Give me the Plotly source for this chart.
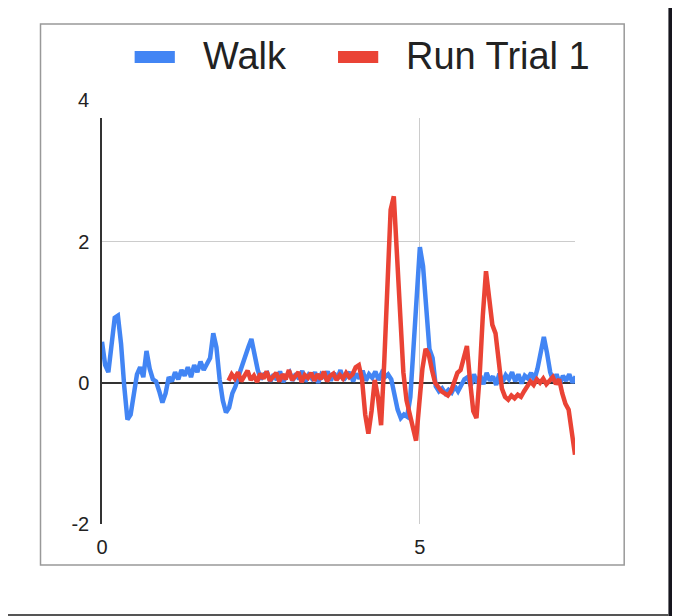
import plotly.graph_objects as go

# Sample spacing (seconds) shared by both recordings
SAMPLE_STEP = 0.05
WALK_START = 0.0
RUN_START = 1.99

# Walk acceleration
walk_values = [
    0.58, 0.25, 0.15, 0.55, 0.92, 0.95, 0.55, -0.05, -0.52, -0.45,
    -0.15, 0.12, 0.22, 0.08, 0.45, 0.20, 0.05, 0.02, -0.12, -0.28,
    -0.15, 0.08, 0.02, 0.15, 0.05, 0.18, 0.10, 0.22, 0.08, 0.25,
    0.15, 0.30, 0.18, 0.28, 0.35, 0.70, 0.50, 0.05, -0.25, -0.42,
    -0.35, -0.15, -0.05, 0.10, 0.25, 0.38, 0.50, 0.62, 0.40, 0.18,
    0.05, 0.12,
    0.14, 0.02, 0.12, 0.04, 0.16, 0.01, 0.10, 0.15, 0.03, 0.13,
    0.05, 0.17, 0.02, 0.11, 0.06, 0.15, 0.00, 0.12, 0.08, 0.16,
    0.03, 0.14, 0.05, 0.18, 0.04, 0.10, 0.15, 0.02, 0.13, 0.06,
    0.17, 0.03, 0.12, 0.07, 0.16, 0.04, 0.14, 0.08,
    0.12, 0.05, -0.15, -0.38, -0.50, -0.45, -0.48, -0.20, 0.50, 1.35,
    1.92, 1.65, 0.95, 0.48, 0.35, -0.05, -0.12, -0.08, -0.15, -0.10,
    -0.14, -0.05, -0.12, -0.02, 0.05,
    0.08, -0.04, 0.12, 0.00, 0.10, -0.02, 0.14, 0.03, 0.09, -0.03,
    0.13, 0.01, 0.11, 0.05, 0.15, 0.02, 0.12, -0.01, 0.10, 0.06,
    0.14, 0.04,
    0.20, 0.45, 0.65, 0.42, 0.15, 0.02, 0.12, -0.02, 0.10, 0.03,
    0.12, 0.00, 0.09,
]

# Run Trial 1 acceleration
run_values = [
    0.03, 0.12, 0.06, 0.15, 0.02, 0.11, 0.17, 0.04, 0.10, 0.01,
    0.13, 0.06, 0.16, 0.03, 0.09, 0.14, 0.02, 0.12, 0.05, 0.18,
    0.04, 0.10, 0.15, 0.01, 0.11, 0.07, 0.14, 0.03, 0.12, 0.05,
    0.16, 0.02, 0.10, 0.13, 0.04, 0.11, 0.06, 0.14, 0.08, 0.12,
    0.22, 0.25, 0.05, -0.45, -0.72, -0.40, 0.04, -0.20, -0.60, 0.30,
    1.40, 2.45, 2.64, 1.75, 0.85, 0.15, -0.25, -0.45, -0.62, -0.82,
    -0.30, 0.20, 0.48, 0.40, 0.18, 0.00, -0.06, -0.12, -0.15, -0.18,
    -0.12, 0.02, 0.14, 0.18, 0.35, 0.52, 0.02, -0.40, -0.50, 0.10,
    0.95, 1.58, 1.20, 0.82, 0.70, 0.30, -0.08, -0.20, -0.24, -0.18,
    -0.22, -0.17, -0.20, -0.12, -0.05, 0.02, -0.03, 0.05, 0.00, 0.06,
    -0.02, 0.04, 0.08, -0.02, 0.05, -0.15, -0.30, -0.38, -0.70, -1.02,
]

series_names = ["Walk", "Run Trial 1"]
series_colors = ["#4285F4", "#EA4335"]

x_ticks = [0, 5]
y_ticks = [-2, 0, 2]
y_tick_text = ["-2", "0", "2"]
y_top_label = "4"

font_family = "Liberation Sans, Arial, sans-serif"

fig = go.Figure()

for name, start, values, color in zip(
    series_names,
    [WALK_START, RUN_START],
    [walk_values, run_values],
    series_colors,
):
    fig.add_trace(go.Scatter(
        y=values, x0=start, dx=SAMPLE_STEP, mode="lines", name=name,
        line=dict(color=color, width=4.5), showlegend=False,
    ))

# Sheets-style legend: fat swatch, wide gap, then the label
legend_left = [0.069, 0.499]
swatch_len = 0.085
text_offset = 0.140
shapes = []
annotations = []
for name, color, left in zip(series_names, series_colors, legend_left):
    shapes.append(dict(
        type="rect", xref="paper", yref="paper", x0=left, x1=left + swatch_len,
        y0=1.1355, y1=1.165, fillcolor=color, line=dict(width=0),
    ))
    annotations.append(dict(
        text=name, xref="paper", yref="paper", x=left + text_offset, y=1.152,
        xanchor="left", yanchor="middle", showarrow=False,
        font=dict(size=38, color="#222222"),
    ))

annotations.append(dict(
    text=y_top_label, xref="paper", yref="paper", x=-0.024, y=1.044,
    xanchor="right", yanchor="middle", showarrow=False,
    font=dict(size=20, color="#222222"),
))

shapes += [
    # grey card border
    dict(type="rect", xref="paper", yref="paper", x0=-0.130, x1=1.104,
         y0=-0.101, y1=1.2315, line=dict(color="#999999", width=1.5),
         layer="below"),
    # dark screenshot edges
    dict(type="rect", xref="paper", yref="paper", x0=1.1975, x1=1.40,
         y0=-0.40, y1=1.50, line=dict(width=0), fillcolor="#16151d"),
    dict(type="rect", xref="paper", yref="paper", x0=-0.40, x1=1.1975,
         y0=-0.2217, y1=-0.40, line=dict(width=0), fillcolor="#555555"),
]

# page body has an 8px margin, so the figure is nudged up-left by that much
# and made a bit bigger so the dark edges reach the window border
fig.update_layout(
    width=688, height=624,
    margin=dict(l=94.3, r=121.3, t=110, b=108),
    paper_bgcolor="white", plot_bgcolor="white",
    font=dict(family=font_family, color="#222222", size=20),
    showlegend=False,
    xaxis=dict(
        range=[0, 7.44], tickvals=x_ticks, showgrid=True, gridcolor="#cccccc",
        gridwidth=1, zeroline=False, showline=False, ticks="",
        ticklabelstandoff=9, tickfont=dict(size=20),
    ),
    yaxis=dict(
        range=[-2, 3.75], tickvals=y_ticks, ticktext=y_tick_text,
        showgrid=True, gridcolor="#cccccc", gridwidth=1,
        zeroline=True, zerolinecolor="#333333", zerolinewidth=1.5,
        showline=True, linecolor="#333333", linewidth=1.5, ticks="",
        ticklabelstandoff=7, tickfont=dict(size=20),
    ),
    annotations=annotations,
    shapes=shapes,
)

fig.write_html("out.html")
